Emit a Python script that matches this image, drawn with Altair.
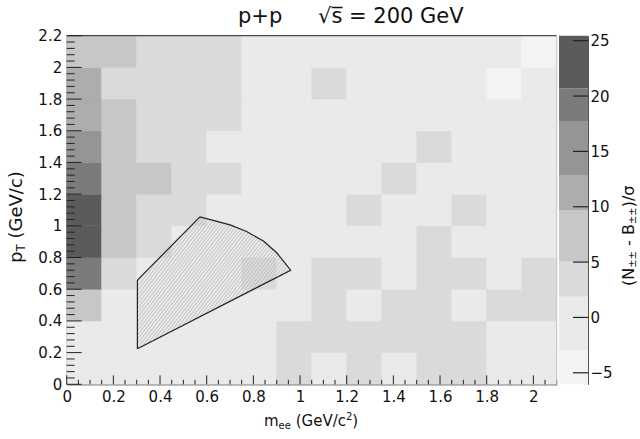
import numpy as np
import pandas as pd
import altair as alt

FONT = "DejaVu Sans"

# ---------------- data ----------------
m_edges = [0.00, 0.15, 0.30, 0.45, 0.60, 0.75, 0.90, 1.05, 1.20, 1.35, 1.50, 1.65, 1.80, 1.95, 2.10]
pt_edges = [0.0, 0.2, 0.4, 0.6, 0.8, 1.0, 1.2, 1.4, 1.6, 1.8, 2.0, 2.2]

# (N - B)/sigma per cell, rows from pT 0-0.2 (bottom) to 2.0-2.2 (top)
sig_rows = [
    [0, 0, 0, 0, 0, 0, 3.5, 0, 3.5, 0, 3.5, 3.5, 0, 0],
    [0, 0, 0, 0, 0, 0, 3.5, 3.5, 3.5, 3.5, 3.5, 3.5, 0, 0],
    [7.5, 0, 0, 0, 0, 0, 0, 3.5, 0, 3.5, 3.5, 0, 3.5, 3.5],
    [19, 3.5, 0, 0, 0, 3.5, 0, 3.5, 3.5, 0, 3.5, 3.5, 0, 3.5],
    [23, 7.5, 3.5, 0, 0, 0, 0, 0, 0, 0, 3.5, 0, 0, 0],
    [23, 7.5, 3.5, 3.5, 0, 0, 0, 0, 3.5, 0, 0, 3.5, 0, 0],
    [19, 7.5, 7.5, 3.5, 3.5, 0, 0, 0, 0, 3.5, 0, 0, 0, 0],
    [15, 7.5, 3.5, 3.5, 0, 0, 0, 0, 0, 0, 3.5, 0, 0, 0],
    [11, 7.5, 3.5, 3.5, 3.5, 0, 0, 0, 0, 0, 0, 0, 0, 0],
    [11, 3.5, 3.5, 3.5, 3.5, 0, 0, 3.5, 0, 0, 0, 0, -4.5, 0],
    [7.5, 7.5, 3.5, 3.5, 3.5, 0, 0, 0, 0, 0, 0, 0, 0, -4.5],
]

# colour contour levels of the palette bar
levels = [-6.04, -2.94, 1.87, 5.04, 9.71, 12.87, 17.68, 20.70, 25.45]
level_values = [-4.5, 0, 3.5, 7.5, 11, 15, 19, 23]
shades = ["#f3f3f3", "#eaeaea", "#dadada", "#c7c7c7", "#adadad", "#959595", "#7b7b7b", "#5b5b5b"]

# hatched acceptance region (outline)
poly_m = [0.303, 0.303, 0.571, 0.628, 0.700, 0.771, 0.843, 0.900, 0.960, 0.303]
poly_pt = [0.224, 0.657, 1.057, 1.035, 1.006, 0.964, 0.904, 0.830, 0.720, 0.224]

x_major = [0, 0.2, 0.4, 0.6, 0.8, 1.0, 1.2, 1.4, 1.6, 1.8, 2.0]
y_major = [0, 0.2, 0.4, 0.6, 0.8, 1.0, 1.2, 1.4, 1.6, 1.8, 2.0, 2.2]
z_ticks = [-5, 0, 5, 10, 15, 20, 25]

# ---------------- layout ----------------
W, H = 490, 348.6
XMAX, YMAX = 2.1, 2.2
PADL, PADT = 66.7, 35.7

xs = alt.Scale(domain=[0, XMAX], nice=False, zero=False)
ys = alt.Scale(domain=[0, YMAX], nice=False, zero=False)
zs = alt.Scale(domain=[levels[0], levels[-1]], nice=False, zero=False)
cscale = alt.Scale(type="threshold", domain=levels[1:-1], range=shades)

xaxis = alt.Axis(values=x_major, format="~g", title=None, labelFlush=False, labelPadding=5,
                 tickSize=0, ticks=False, grid=False)
yaxis = alt.Axis(values=y_major, format="~g", title=None, labelFlush=False, labelPadding=5,
                 tickSize=0, ticks=False, grid=False)

cells = []
for j, row in enumerate(sig_rows):
    for i, v in enumerate(row):
        cells.append(dict(m0=m_edges[i], m1=m_edges[i + 1], p0=pt_edges[j], p1=pt_edges[j + 1], sig=v))
cells = pd.DataFrame(cells)

heat = alt.Chart(cells).mark_rect(strokeWidth=0.6).encode(
    x=alt.X("m0:Q", scale=xs, axis=xaxis),
    x2="m1:Q",
    y=alt.Y("p0:Q", scale=ys, axis=yaxis),
    y2="p1:Q",
    color=alt.Color("sig:Q", scale=cscale, legend=None),
    stroke=alt.Stroke("sig:Q", scale=cscale, legend=None),
)

# hatch lines clipped to the polygon (computed in pixel space)
sx, sy = W / XMAX, H / YMAX
P = np.column_stack([np.array(poly_m) * sx, (YMAX - np.array(poly_pt)) * sy])
theta = np.deg2rad(52)
n = np.array([np.sin(theta), np.cos(theta)])
proj = P @ n
segs = []
spacing = 2.7
for c in np.arange(proj.min() + spacing / 2, proj.max(), spacing):
    pts = []
    for k in range(len(P) - 1):
        f1, f2 = proj[k] - c, proj[k + 1] - c
        if f1 * f2 < 0:
            pts.append(P[k] + (P[k + 1] - P[k]) * f1 / (f1 - f2))
    if len(pts) >= 2:
        pts.sort(key=lambda p: p[0])
        a, b = pts[0], pts[-1]
        segs.append(dict(m0=a[0] / sx, p0=YMAX - a[1] / sy, m1=b[0] / sx, p1=YMAX - b[1] / sy))
hatch_df = pd.DataFrame(segs)
hatch = alt.Chart(hatch_df).mark_rule(color="#b9b9b9", strokeWidth=0.9).encode(
    x=alt.X("m0:Q", scale=xs, axis=xaxis), y=alt.Y("p0:Q", scale=ys, axis=yaxis),
    x2="m1:Q", y2="p1:Q")

poly_df = pd.DataFrame({"m0": poly_m, "p0": poly_pt, "k": list(range(len(poly_m)))})
outline = alt.Chart(poly_df).mark_line(color="#222", strokeWidth=1.2).encode(
    x=alt.X("m0:Q", scale=xs, axis=xaxis), y=alt.Y("p0:Q", scale=ys, axis=yaxis), order="k:Q")

# inward ROOT style ticks
x_minor = [round(v, 2) for v in np.arange(0.05, XMAX + 1e-6, 0.05) if abs(v / 0.2 - round(v / 0.2)) > 1e-6]
y_minor = [round(v, 2) for v in np.arange(0.04, YMAX + 1e-6, 0.04) if abs(v / 0.2 - round(v / 0.2)) > 1e-6]

def xticks(vals, length):
    return alt.Chart(pd.DataFrame({"m0": vals})).mark_rule(color="#222", strokeWidth=1).encode(
        x=alt.X("m0:Q", scale=xs, axis=xaxis), y=alt.value(H), y2=alt.value(H - length))

def yticks(vals, length):
    return alt.Chart(pd.DataFrame({"p0": vals})).mark_rule(color="#222", strokeWidth=1).encode(
        y=alt.Y("p0:Q", scale=ys, axis=yaxis), x=alt.value(0), x2=alt.value(length))

one = pd.DataFrame({"a": [0]})
frame_top = alt.Chart(one).mark_rule(color="#222", strokeWidth=1).encode(
    x=alt.value(0), x2=alt.value(W), y=alt.value(0))
frame_right = alt.Chart(one).mark_rule(color="#c4c4c4", strokeWidth=1).encode(
    x=alt.value(W), y=alt.value(0), y2=alt.value(H))

# ---------------- text pieces ----------------
WID = {"m": 0.974, "e": 0.615, " ": 0.318, "(": 0.390, "G": 0.775, "V": 0.684, "/": 0.337,
       "c": 0.550, "2": 0.636, ")": 0.390, "p": 0.635, "T": 0.611, "N": 0.748, "\u00b1": 0.838,
       "-": 0.361, "B": 0.686, "\u03c3": 0.634}

def tw(s, size):
    return sum(WID[ch] for ch in s) * size

def txt(s, x, y, size, angle=0, align="left"):
    kw = dict(text=s, font=FONT, fontSize=size, align=align, baseline="alphabetic", color="#111")
    if angle:
        kw["angle"] = angle
    return alt.Chart(one).mark_text(**kw).encode(x=alt.value(x), y=alt.value(y))

def run(pieces, start, fixed, angle=0):
    """lay out pieces; leading spaces are turned into offsets (SVG trims them)."""
    out = []
    pos = start
    for s, size, d in pieces:
        lead = len(s) - len(s.lstrip(" "))
        adv_lead = lead * WID[" "] * size
        body = s.lstrip(" ")
        if angle:
            out.append(txt(body, fixed + d, pos - adv_lead, size, angle=angle))
            pos -= tw(s, size)
        else:
            out.append(txt(body, pos + adv_lead, fixed + d, size))
            pos += tw(s, size)
    return out

texts = []
# title
texts.append(txt("p+p", 238 - PADL, 23 - PADT, 21))
texts.append(txt("\u221as\u0305 = 200 GeV", 318 - PADL, 23 - PADT, 21))

# x title  m_ee (GeV/c^2)
texts += run([("m", 15, 0), ("ee", 10, 3), (" (GeV/c", 15, 0), ("2", 10, -6), (")", 15, 0)],
             264 - PADL, 426 - PADT)

# y title  p_T (GeV/c)  rotated
texts += run([("p", 18, 0), ("T", 12, 3), (" (GeV/c)", 18, 0)], 263 - PADT, 22 - PADL, angle=270)

# z title (N_{+-+-} - B_{+-+-})/sigma rotated
texts += run([("(N", 16, 0), ("\u00b1\u00b1", 10, 2), (" - B", 16, 0), ("\u00b1\u00b1", 10, 2), (")/\u03c3", 16, 0)],
             286 - PADT, 634 - PADL, angle=270)

main = alt.layer(heat, hatch, outline,
                 xticks(x_major, 9), xticks(x_minor, 4.5),
                 yticks(y_major, 15), yticks(y_minor, 8),
                 frame_top, frame_right, *texts)

# ---------------- palette bar ----------------
cb_df = pd.DataFrame({"lo": levels[:-1], "hi": levels[1:], "val": level_values})
CB0, CB1 = 559 - PADL, 588 - PADL
zaxis = alt.Axis(orient="right", offset=CB1 - W, values=z_ticks, title=None, tickSize=0, ticks=False,
                 labelPadding=2, labelFlush=False, domainColor="#555", grid=False)
cb_rect = alt.Chart(cb_df).mark_rect().encode(
    x=alt.value(CB0), x2=alt.value(CB1),
    y=alt.Y("lo:Q", scale=zs, axis=zaxis),
    y2="hi:Q",
    color=alt.Color("val:Q", scale=cscale, legend=None))
cb_ticks = alt.Chart(pd.DataFrame({"lo": z_ticks})).mark_rule(color="#222", strokeWidth=1.2).encode(
    y=alt.Y("lo:Q", scale=zs, axis=zaxis), x=alt.value(CB1 - 15), x2=alt.value(CB1))
cb = alt.layer(cb_rect, cb_ticks)

chart = alt.layer(main, cb).resolve_scale(y="independent").properties(
    width=W, height=H,
    autosize=alt.AutoSizeParams(type="none"),
    padding={"left": PADL, "top": PADT, "right": 640 - PADL - W, "bottom": 439 - PADT - H},
).configure_view(stroke=None).configure_axis(
    labelFont=FONT, labelFontSize=15, labelColor="#111", domainColor="#222", domainWidth=1)

chart.save("out.html", embed_options={"renderer": "svg", "actions": False})
